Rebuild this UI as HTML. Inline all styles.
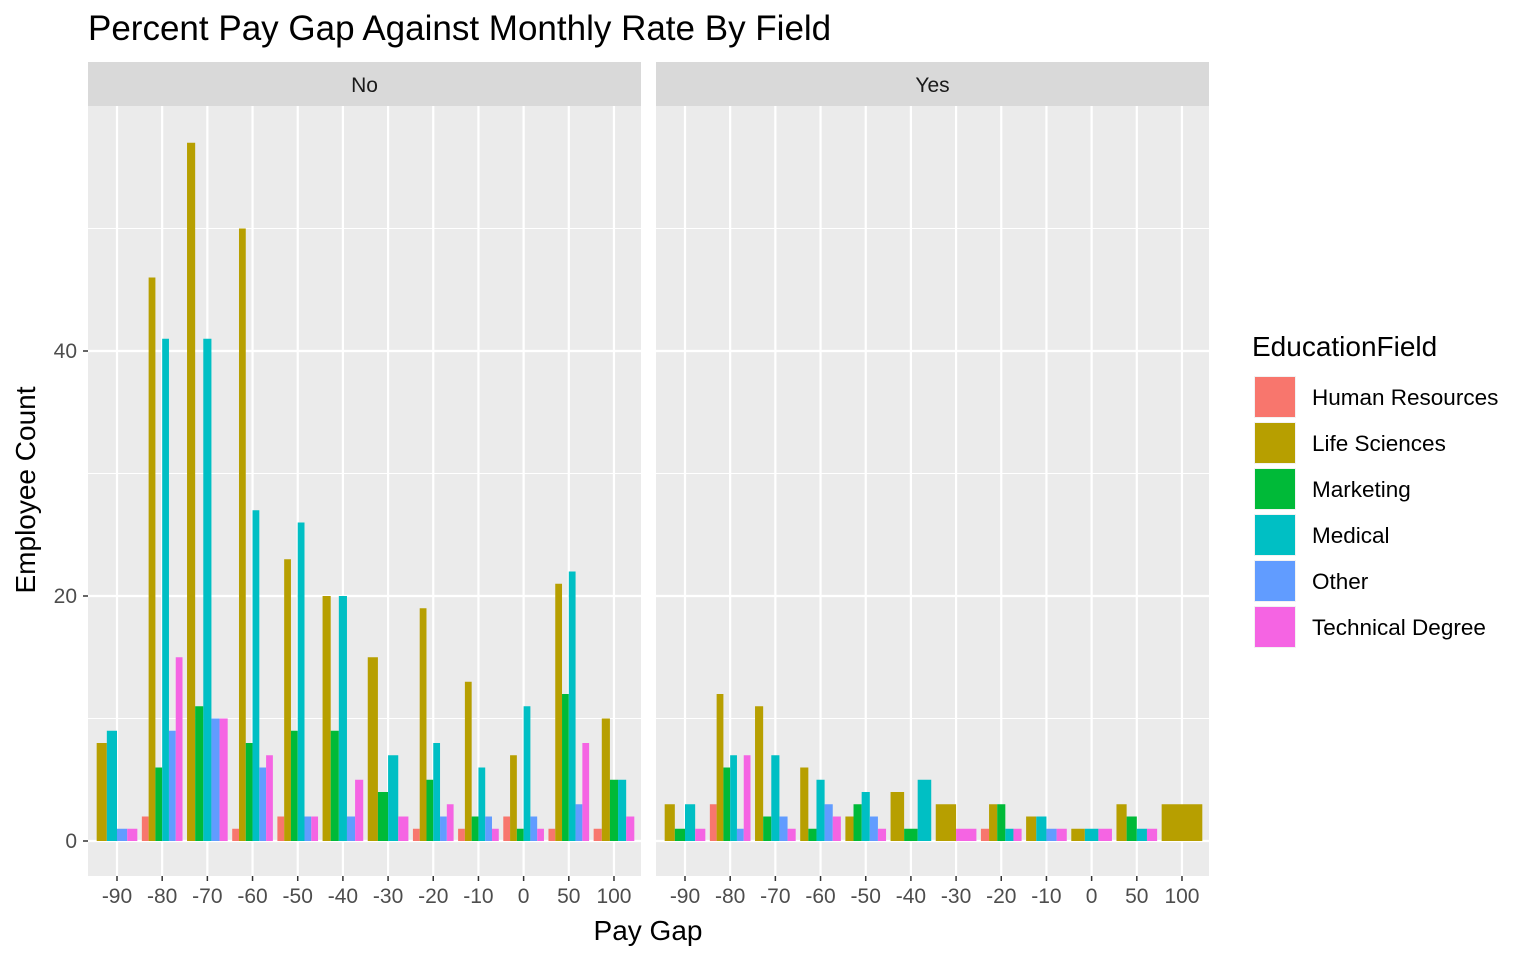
<!DOCTYPE html>
<html><head><meta charset="utf-8"><style>
body{margin:0;background:#fff;font-family:"Liberation Sans",Arial,sans-serif}
svg text{font-family:"Liberation Sans",Arial,sans-serif}
</style></head><body>
<svg id="c" width="1536" height="960" xmlns="http://www.w3.org/2000/svg"></svg>
<script>
const categories = ["-90","-80","-70","-60","-50","-40","-30","-20","-10","0","50","100"];
const fields = ["Human Resources","Life Sciences","Marketing","Medical","Other","Technical Degree"];
const colors = ["#F8766D","#B79F00","#00BA38","#00BFC4","#619CFF","#F564E3"];
const panels = ["No","Yes"];
// counts per category: [HR, LS, Mkt, Med, Other, TD]
const noValues = [
 [0,8,0,9,1,1],[2,46,6,41,9,15],[0,57,11,41,10,10],[1,50,8,27,6,7],
 [2,23,9,26,2,2],[0,20,9,20,2,5],[0,15,4,7,0,2],[1,19,5,8,2,3],
 [1,13,2,6,2,1],[2,7,1,11,2,1],[1,21,12,22,3,8],[1,10,5,5,0,2]];
const yesValues = [
 [0,3,1,3,0,1],[3,12,6,7,1,7],[0,11,2,7,2,1],[0,6,1,5,3,2],
 [0,2,3,4,2,1],[0,4,1,5,0,0],[0,3,0,0,0,1],[1,3,3,1,0,1],
 [0,2,0,2,1,1],[0,1,0,1,0,1],[0,3,2,1,0,1],[0,3,0,0,0,0]];
const yTicks = [0,20,40];
const yMinor = [10,30,50];

const svg=document.getElementById('c');const NS='http://www.w3.org/2000/svg';
function mk(t,a,p){const e=document.createElementNS(NS,t);for(const k in a)e.setAttribute(k,a[k]);(p||svg).appendChild(e);return e;}
const plotTop=106,plotBot=876;
function y(v){return 841-v*12.25;}
const panelX=[88,656],pw=553;
function xs(pi,i){return panelX[pi]+29+i*45.18;}
function txt(s,a,p){const e=mk('text',a,p);e.textContent=s;return e;}

const tt=txt("Percent Pay Gap Against Monthly Rate By Field",{x:88,y:40,'font-size':35,fill:'#000'});



panels.forEach((pn,pi)=>{
  const g=mk('g',{});
  
  
  const x0=panelX[pi];
  mk('rect',{x:x0,y:62,width:pw,height:44,fill:'#d9d9d9'},g);
  txt(pn,{x:x0+pw/2,y:92,'font-size':21,fill:'#1a1a1a','text-anchor':'middle'},g);
  mk('rect',{x:x0,y:plotTop,width:pw,height:plotBot-plotTop,fill:'#ebebeb'},g);
  yMinor.forEach(v=>mk('line',{x1:x0,x2:x0+pw,y1:y(v),y2:y(v),stroke:'#fff','stroke-width':1},g));
  yTicks.forEach(v=>mk('line',{x1:x0,x2:x0+pw,y1:y(v),y2:y(v),stroke:'#fff','stroke-width':2.2},g));
  categories.forEach((c,i)=>{
    mk('line',{x1:xs(pi,i),x2:xs(pi,i),y1:plotTop,y2:plotBot,stroke:'#fff','stroke-width':2.2},g);
    mk('line',{x1:xs(pi,i),x2:xs(pi,i),y1:plotBot,y2:plotBot+5,stroke:'#333','stroke-width':1.5},g);
    const t=txt(c,{x:xs(pi,i),y:903,'font-size':21,fill:'#4d4d4d','text-anchor':'middle'},g);
    
    
  });
  const vals=pi===0?noValues:yesValues;
  vals.forEach((row,i)=>{
    const present=row.map((v,k)=>k).filter(k=>row[k]>0);
    const gw=45.18*0.9,bw=gw/present.length;
    present.forEach((k,j)=>{
      const r=mk('rect',{x:xs(pi,i)-gw/2+j*bw,y:y(row[k]),width:bw,height:y(0)-y(row[k]),fill:colors[k]},g);
      
      
    });
  });
});
yTicks.forEach(v=>{
  mk('line',{x1:83,x2:88,y1:y(v),y2:y(v),stroke:'#333','stroke-width':1.5});
  const t=txt(String(v),{x:77,y:y(v)+7,'font-size':21,fill:'#4d4d4d','text-anchor':'end'});
  
  
});
const xt=txt("Pay Gap",{x:648,y:940,'font-size':28,fill:'#000','text-anchor':'middle'});


const yt=txt("Employee Count",{x:35,y:490,'font-size':28,fill:'#000','text-anchor':'middle',transform:'rotate(-90 35 490)'});


const lg=mk('g',{});


txt("EducationField",{x:1252,y:356,'font-size':28,fill:'#000'},lg);
fields.forEach((f,k)=>{
  const yy=376+k*46;
  mk('rect',{x:1254,y:yy,width:42,height:42,fill:'#f2f2f2'},lg);
  const r=mk('rect',{x:1255,y:yy+1,width:40,height:40,fill:colors[k]},lg);
  
  
  const le=txt(f,{x:1312,y:yy+29,'font-size':22.5,fill:'#000'},lg);
  
  
});
</script>
</body></html>
